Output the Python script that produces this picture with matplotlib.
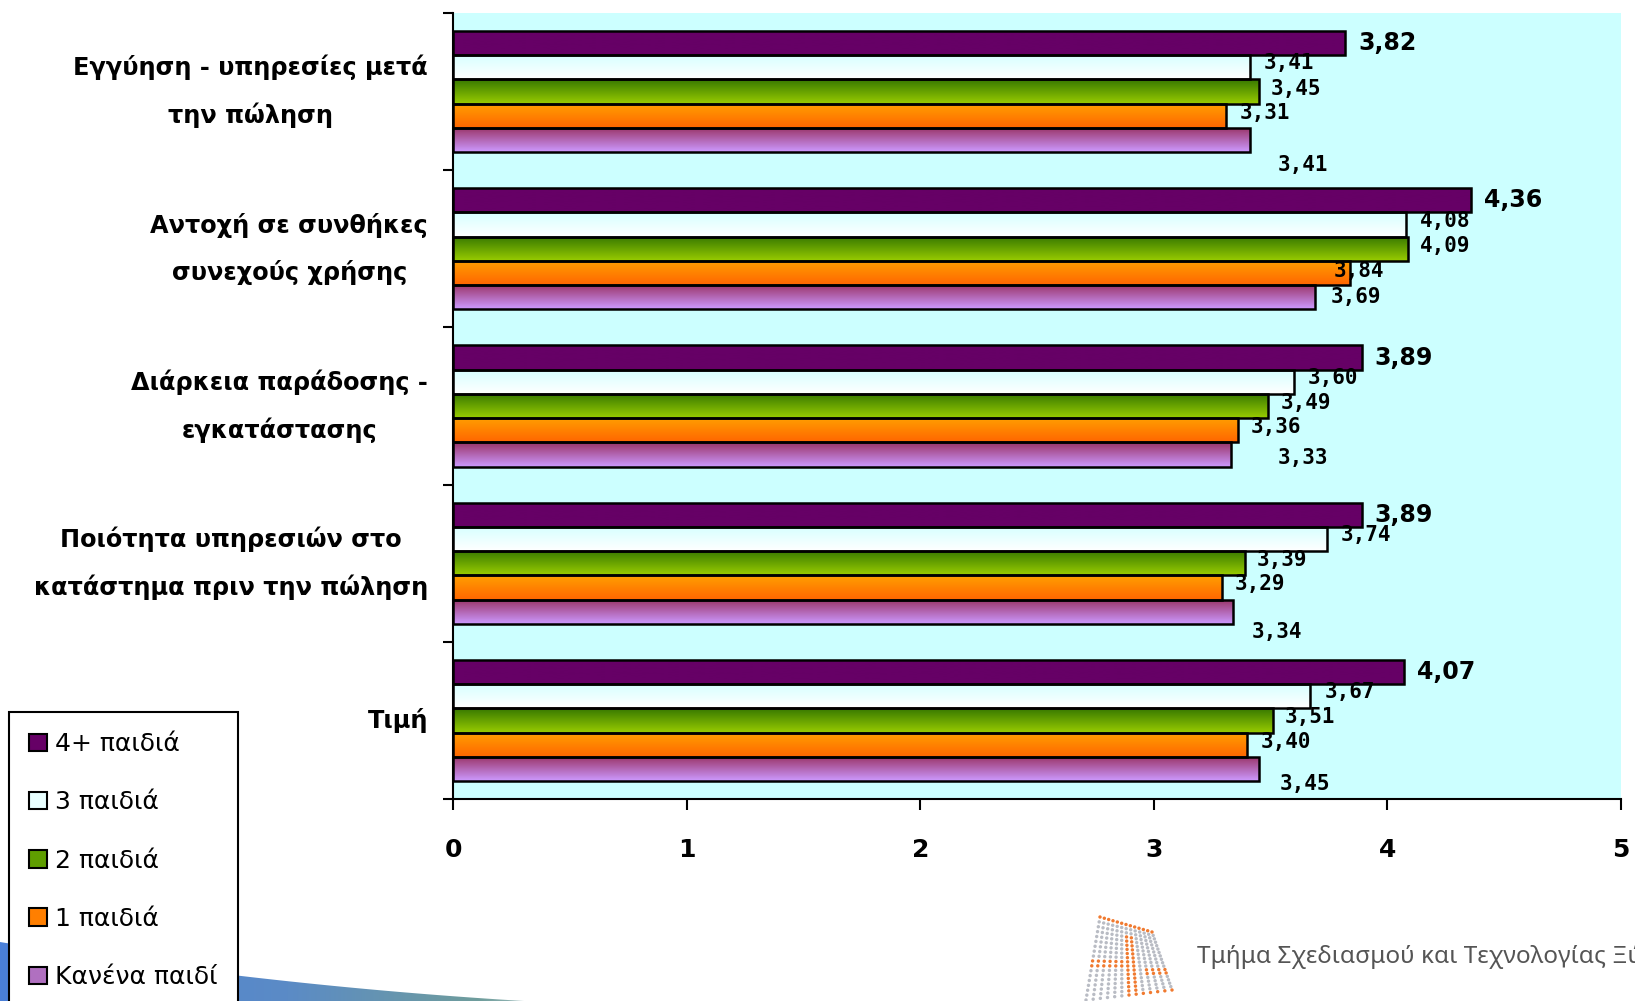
import matplotlib.pyplot as plt
import matplotlib.colors as mcolors
from matplotlib.patches import Patch, Polygon
import numpy as np

plt.rcParams['font.family'] = 'DejaVu Sans'

categories = ['Εγγύηση - υπηρεσίες μετά\nτην πώληση',
              'Αντοχή σε συνθήκες\nσυνεχούς χρήσης',
              'Διάρκεια παράδοσης -\nεγκατάστασης',
              'Ποιότητα υπηρεσιών στο\nκατάστημα πριν την πώληση',
              'Τιμή']
series = ['4+ παιδιά', '3 παιδιά', '2 παιδιά', '1 παιδιά', 'Κανένα παιδί']
kids_4plus = [3.82, 4.36, 3.89, 3.89, 4.07]
kids_3 = [3.41, 4.08, 3.60, 3.74, 3.67]
kids_2 = [3.45, 4.09, 3.49, 3.39, 3.51]
kids_1 = [3.31, 3.84, 3.36, 3.29, 3.40]
kids_0 = [3.41, 3.69, 3.33, 3.34, 3.45]
values = [kids_4plus, kids_3, kids_2, kids_1, kids_0]

# (top, bottom) colours of the gradient fill for each series
fills = [('#660066', '#660066'),
         ('#d6ffff', '#ffffff'),
         ('#367800', '#99cc00'),
         ('#ffa000', '#ff6600'),
         ('#993366', '#cc99ff')]
legend_fill = ['#660066', '#e8ffff', '#5f9e00', '#ff7f00', '#b070c0']

# label offsets in pixels (dx, dy) per series, with a few individual nudges
series_nudge = [(13, 0), (14, 4), (12, 3), (13, 3), (20, -15)]
label_nudge = {(0, 4): (28, -25), (1, 4): (16, 0), (2, 4): (47, -4),
               (3, 4): (18, -20), (4, 4): (21, -15), (1, 3): (-16, 2)}

W, H = 1635, 1001
fig = plt.figure(figsize=(W / 100, H / 100), dpi=100)

# slide decoration behind everything
bg = fig.add_axes([0, 0, 1, 1], zorder=-5)
bg.set_xlim(0, W)
bg.set_ylim(H, 0)
bg.axis('off')
sx = np.linspace(0, 640, 80)
edge = 942 + 0.165 * sx - 0.0001 * sx ** 2
swoosh = Polygon(np.column_stack([np.r_[sx, 640, 0], np.r_[edge, H + 5, H + 5]]),
                 closed=True, facecolor='none', edgecolor='none')
bg.add_patch(swoosh)
stops = [(0.0, '#4a7fd8'), (0.45, '#5b8bc6'), (0.75, '#6f9d9c'), (1.0, '#ffffff')]
gx = np.linspace(0, 1, 256)
grad = np.zeros((1, 256, 4))
for k in range(3):
    grad[0, :, k] = np.interp(gx, [s[0] for s in stops],
                              [mcolors.to_rgb(s[1])[k] for s in stops])
grad[0, :, 3] = 1.0
im = bg.imshow(grad, extent=(0, 640, H + 5, 935), aspect='auto', interpolation='bilinear')
im.set_clip_path(swoosh)

# dotted logo
rows, cols = 18, 13
lx, ly, lc = [], [], []
for r in range(rows):
    for c in range(cols):
        u, v = c / (cols - 1), r / (rows - 1)
        x = (1 - v) * ((1 - u) * 1100 + u * 1152) + v * ((1 - u) * 1086 + u * 1172)
        y = (1 - v) * ((1 - u) * 917 + u * 932) + v * ((1 - u) * 1000 + u * 990)
        orange = (r == 0 or (r in (9, 10) and c < 6) or (c in (6, 7) and r > 2)
                  or (r in (11, 12) and c > 8) or (r == rows - 1 and c > 6))
        lx.append(x)
        ly.append(y)
        lc.append('#f07a30' if orange else '#b9bcc4')
bg.scatter(lx, ly, s=6, c=lc, linewidths=0)
bg.text(1197, 957, 'Τμήμα Σχεδιασμού και Τεχνολογίας Ξύλου',
        fontsize=17.5, color='#555555', va='center', ha='left', family='Noto Sans')

ax = fig.add_axes([453 / W, 1 - 799 / H, (1621 - 453) / W, (799 - 13) / H])
ax.set_facecolor('#ccffff')

h = 0.154
ypos = np.arange(len(categories))
for j, vals in enumerate(values):
    bars = ax.barh(ypos + (j - 2) * h, vals, height=h, facecolor='none',
                   edgecolor='black', linewidth=1.8, zorder=3)
    c0 = np.array(mcolors.to_rgb(fills[j][0]))
    c1 = np.array(mcolors.to_rgb(fills[j][1]))
    t = np.linspace(0, 1, 64)[:, None]
    img = (c0 * (1 - t) + c1 * t)[:, None, :]
    for i, p in enumerate(bars.patches):
        x0, y0 = p.get_x(), p.get_y()
        g = ax.imshow(img, extent=(x0, x0 + p.get_width(), y0 + p.get_height(), y0),
                      aspect='auto', interpolation='bilinear', zorder=2)
        g.set_clip_path(p)
        dx, dy = label_nudge.get((i, j), series_nudge[j])
        txt = f'{vals[i]:.2f}'.replace('.', ',')
        if j == 0:
            ax.annotate(txt, (vals[i], ypos[i] + (j - 2) * h), xytext=(dx, dy),
                        textcoords='offset pixels', va='center', ha='left',
                        fontsize=17, fontweight='bold', zorder=4)
        else:
            ax.annotate(txt, (vals[i], ypos[i] + (j - 2) * h), xytext=(dx, dy),
                        textcoords='offset pixels', va='center', ha='left',
                        fontsize=15, fontweight='bold', family='DejaVu Sans Mono',
                        zorder=4)

ax.set_xlim(0, 5)
ax.set_ylim(len(categories) - 0.5, -0.5)
ax.set_xticks(range(6))
ax.set_xticklabels([str(k) for k in range(6)], fontsize=18, fontweight='bold')
ax.set_yticks(ypos)
ax.set_yticklabels(categories, fontsize=17.3, fontweight='bold',
                   multialignment='center', linespacing=2.1, va='center')
ax.set_yticks(np.arange(-0.5, len(categories), 1), minor=True)
ax.tick_params(axis='y', which='major', length=0, pad=18)
ax.tick_params(axis='y', which='minor', length=7, width=1.5)
ax.tick_params(axis='x', length=8, width=1.5, pad=20)
for side in ('top', 'right'):
    ax.spines[side].set_visible(False)
for side in ('left', 'bottom'):
    ax.spines[side].set_linewidth(1.5)

handles = [Patch(facecolor=legend_fill[j], edgecolor='black', linewidth=1.5)
           for j in range(len(series))]
leg = fig.legend(handles, series, loc='upper left', bbox_to_anchor=(9 / W, 1 - 712 / H),
                 bbox_transform=fig.transFigure, frameon=True, fancybox=False,
                 edgecolor='black', framealpha=1, fontsize=18, handlelength=0.7,
                 handleheight=0.7, handletextpad=0.35, labelspacing=1.37,
                 borderpad=0.8, borderaxespad=0)
leg.get_frame().set_linewidth(1.5)

fig.savefig('out.png', dpi=100)
